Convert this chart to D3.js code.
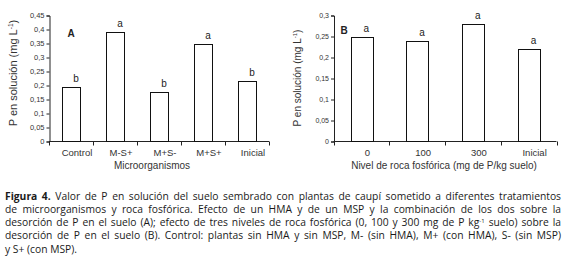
<!DOCTYPE html>
<html><head><meta charset="utf-8">
<script src="https://cdn.jsdelivr.net/npm/d3@7"></script>
<style>
html,body{margin:0;padding:0;background:#fff;}
svg{display:block;}
</style></head>
<body>
<svg id="c" width="568" height="267"></svg>
<script>
// ---------- data ----------
const catsA = ["Control", "M-S+", "M+S-", "M+S+", "Inicial"];
const valsA = [0.195, 0.39, 0.177, 0.35, 0.217];
const lettersA = ["b", "a", "b", "a", "b"];
const ticksA = [0, 0.05, 0.1, 0.15, 0.2, 0.25, 0.3, 0.35, 0.4, 0.45];

const catsB = ["0", "100", "300", "Inicial"];
const valsB = [0.25, 0.24, 0.279, 0.221];
const lettersB = ["a", "a", "a", "a"];
const ticksB = [0, 0.05, 0.1, 0.15, 0.2, 0.25, 0.3];

const xTitleA = "Microorganismos";
const xTitleB = "Nivel de roca fosfórica (mg de P/kg suelo)";

const captionLines = [
  [{t:"Figura 4.", b:true}, {t:" Valor de P en solución del suelo sembrado con plantas de caupí sometido a diferentes tratamientos"}],
  [{t:"de microorganismos y roca fosfórica. Efecto de un HMA y de un MSP y la combinación de los dos sobre la"}],
  [{t:"desorción de P en el suelo (A); efecto de tres niveles de roca fosfórica (0, 100 y 300 mg de P kg"}, {t:"-1", sup:true}, {t:" suelo) sobre la"}],
  [{t:"desorción de P en el suelo (B). Control: plantas sin HMA y sin MSP, M- (sin HMA), M+ (con HMA), S- (sin MSP)"}],
  [{t:"y S+ (con MSP)."}]
];

// ---------- drawing ----------
const svg = d3.select("#c");
svg.append("rect").attr("width",568).attr("height",267).attr("fill","#fff");
const FONT = "'Liberation Sans', Arial, sans-serif";
const fmt = d => d === 0 ? "0" : String(+d.toFixed(2)).replace(".", ",");

function panel(o) {
  const g = svg.append("g").attr("font-family", FONT).attr("fill", "#222");
  const y = d3.scaleLinear().domain([0, o.max]).range([141.5, 15.5]);
  const xb = d3.scaleBand().domain(o.cats).range([o.x0, o.x1]).padding(0);
  const bw = xb.bandwidth() * o.barFrac;

  // y axis
  const ya = g.append("g").attr("transform", `translate(${o.x0 + 0.5},0)`)
    .call(d3.axisLeft(y).tickValues(o.ticks).tickFormat(fmt).tickSize(3).tickPadding(2));
  ya.select(".domain").attr("stroke", "#222");
  ya.selectAll(".tick line").attr("stroke", "#222");
  ya.selectAll("text").attr("font-family", FONT).attr("font-size", o.tickFs).attr("fill", "#333");

  // x axis line with boundary ticks
  const xa = g.append("g").attr("transform", `translate(0,${y(0)})`);
  xa.append("line").attr("x1", o.x0).attr("x2", o.x1).attr("stroke", "#222");
  const bounds = o.cats.map(c => xb(c)).concat([o.x1]);
  xa.selectAll(".bt").data(bounds).join("line").attr("class","bt")
    .attr("x1", d => Math.round(d) + 0.5).attr("x2", d => Math.round(d) + 0.5)
    .attr("y1", 0).attr("y2", 4).attr("stroke", "#222");
  xa.selectAll(".xl").data(o.cats).join("text").attr("class","xl")
    .attr("x", d => xb(d) + xb.bandwidth() / 2 + 6).attr("y", 14)
    .attr("text-anchor", "middle").attr("font-size", 9.5).attr("fill", "#333")
    .text(d => d);

  // bars
  g.selectAll(".bar").data(o.vals).join("rect").attr("class","bar")
    .attr("x", (d, i) => Math.round(xb(o.cats[i]) + (xb.bandwidth() - bw) / 2) + 0.5)
    .attr("y", d => Math.round(y(d)) + 0.5)
    .attr("width", Math.round(bw))
    .attr("height", d => y(0) - Math.round(y(d)) - 0.5)
    .attr("fill", "#fff").attr("stroke", "#111").attr("stroke-width", 1);

  // significance letters
  g.selectAll(".lt").data(o.letters).join("text").attr("class","lt")
    .attr("x", (d, i) => xb(o.cats[i]) + xb.bandwidth() / 2 + 5)
    .attr("y", (d, i) => y(o.vals[i]) - 5)
    .attr("text-anchor", "middle").attr("font-size", 10).attr("fill", "#222")
    .text(d => d);

  // panel label
  g.append("text").attr("x", o.labX).attr("y", o.labY)
    .attr("font-size", 10).attr("font-weight", "bold").attr("text-anchor","middle").text(o.label);

  // x title
  g.append("text").attr("x", o.xtX).attr("y", 169).attr("text-anchor", "middle")
    .attr("font-size", 10).attr("fill", "#333").text(o.xTitle);

  // y title
  const yt = g.append("text").attr("transform", `translate(${o.ytX},${o.ytY}) rotate(-90)`)
    .attr("text-anchor", "middle").attr("font-size", o.ytFs).attr("fill", "#333");
  yt.append("tspan").text("P en solución (mg L");
  yt.append("tspan").attr("font-size", o.ytFs * 0.6).attr("dy", -o.ytFs * 0.4).text("-1");
  yt.append("tspan").attr("dy", o.ytFs * 0.4).text(")");
}

panel({cats: catsA, vals: valsA, letters: lettersA, ticks: ticksA, max: 0.45,
  x0: 49, x1: 269, barFrac: 0.41, tickFs: 7.5, label: "A", labX: 71, labY: 37,
  xTitle: xTitleA, xtX: 152, ytX: 17, ytY: 73, ytFs: 11});
panel({cats: catsB, vals: valsB, letters: lettersB, ticks: ticksB, max: 0.3,
  x0: 333.5, x1: 556.5, barFrac: 0.39, tickFs: 7, label: "B", labX: 344, labY: 34,
  xTitle: xTitleB, xtX: 444, ytX: 301, ytY: 78, ytFs: 10});

// caption
const cap = svg.append("g").attr("font-family", "'Open Sans', 'Noto Sans', sans-serif")
  .attr("font-size", 10.3).attr("fill", "#1a1a1a");
const capX = 5, capW = 556, base0 = 199.5, lh = 13.3;
captionLines.forEach((line, i) => {
  const t = cap.append("text").attr("x", capX).attr("y", base0 + i * lh).attr("xml:space","preserve");
  line.forEach(seg => {
    const s = t.append("tspan").text(seg.t);
    if (seg.b) s.attr("font-weight", "bold");
    if (seg.sup) s.attr("font-size", 6).attr("dy", -3.5);
  });
  // restore baseline after superscript
  t.selectAll("tspan").each(function(d, k) {
    if (k > 0 && line[k - 1].sup) d3.select(this).attr("dy", 3.5);
  });
  if (i < captionLines.length - 1) {
    const w = t.node().getComputedTextLength();
    const full = line.map(s => s.t).join("");
    const spaces = (full.match(/ /g) || []).length;
    if (spaces > 0) t.attr("word-spacing", (capW - w) / spaces);
  }
});
</script>
</body></html>
